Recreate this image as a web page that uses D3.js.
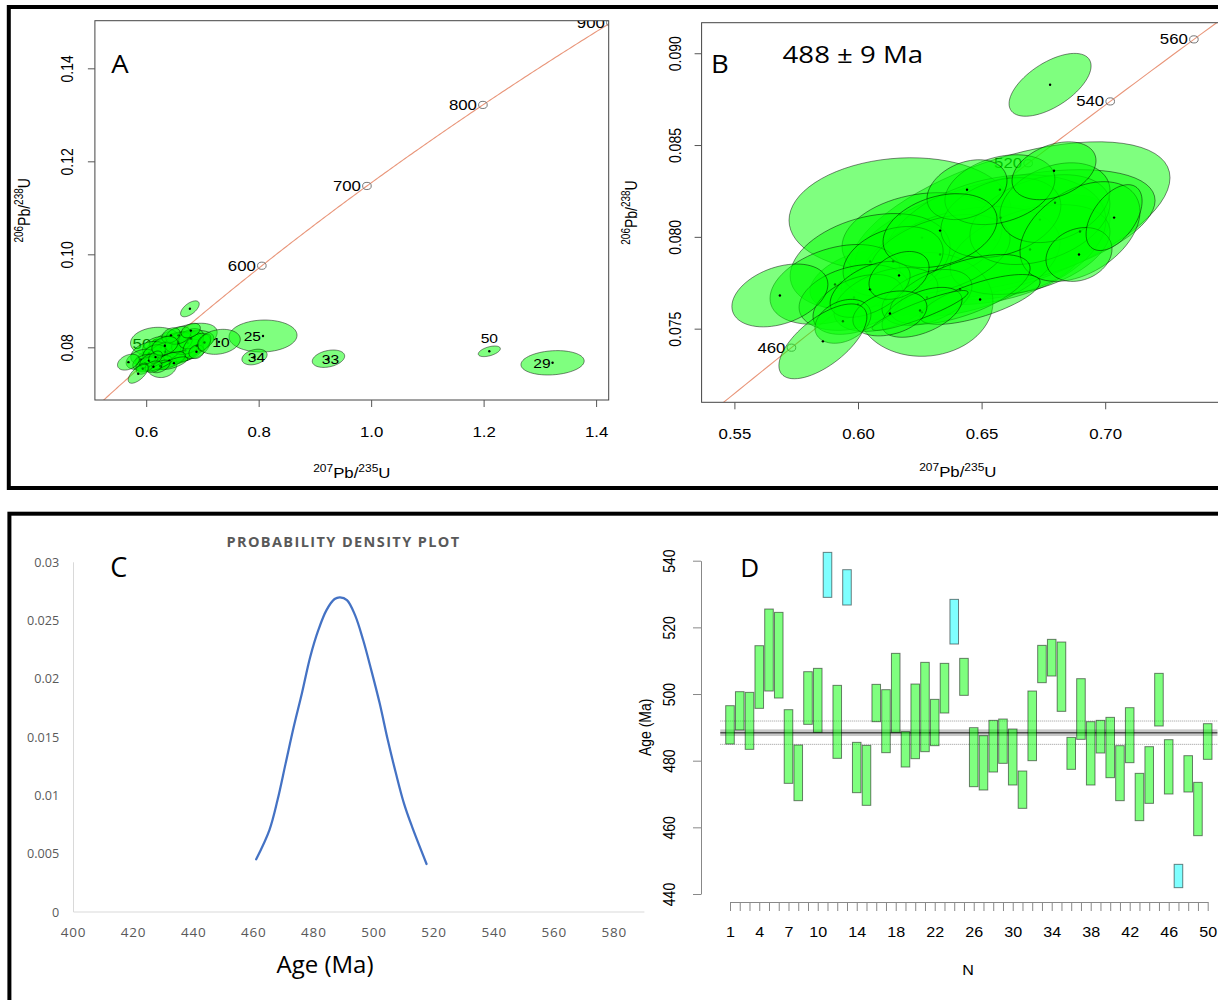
<!DOCTYPE html>
<html>
<head>
<meta charset="utf-8">
<script src="https://cdn.jsdelivr.net/npm/d3@7"></script>
<style>
  body { margin: 0; background: #fff; }
  svg { display: block; }
</style>
</head>
<body>
<svg id="fig" width="1218" height="1000"></svg>
<script>
// ---------- data ----------
// U-Pb error ellipses (207Pb/235U, 206Pb/238U, half-widths, error correlation)
const ellX   = [0.6494,0.6170,0.6777,0.6332,0.6008,0.6615,0.6615,0.6595,0.6170,0.6554,0.6413,0.6259,0.6271,0.6049,0.6696,0.6332,0.5907,0.6736,0.6578,0.6797,0.6898,0.6574,0.6441,0.6142,0.5984,0.6113,0.6000,0.6279,0.6413,0.6494,0.6259,0.6049,0.5939,0.6251,0.6332,0.6793,0.6894,0.7036,0.6166,0.6129,0.5684,0.5858,0.6777];
const ellY   = [0.07958,0.07741,0.08012,0.07822,0.07769,0.07822,0.08083,0.08029,0.08121,0.07985,0.07866,0.07996,0.07632,0.07866,0.07931,0.07904,0.07741,0.08094,0.08105,0.08186,0.08029,0.08257,0.08257,0.07866,0.07670,0.07659,0.07632,0.07670,0.07714,0.07659,0.07589,0.07714,0.07540,0.07599,0.08034,0.08360,0.07904,0.08105,0.07790,0.07583,0.07681,0.07431,0.08828];
const ellSX  = [0.03034,0.02427,0.02427,0.03236,0.02023,0.02832,0.06472,0.06068,0.0449,0.0449,0.04045,0.03236,0.02751,0.03236,0.03236,0.02832,0.0263,0.02832,0.02427,0.02225,0.02427,0.02225,0.01618,0.02023,0.02225,0.02104,0.0182,0.0182,0.02832,0.02427,0.01618,0.01618,0.01133,0.01942,0.02306,0.01699,0.01335,0.01133,0.01214,0.01497,0.01942,0.0178,0.01659];
const ellSY  = [0.002174,0.001902,0.002174,0.001902,0.00163,0.00163,0.004348,0.00337,0.003098,0.003533,0.002989,0.002446,0.002826,0.002609,0.002446,0.002174,0.002174,0.002446,0.002174,0.002174,0.002717,0.001902,0.00163,0.001902,0.001793,0.001739,0.00163,0.001522,0.001902,0.001359,0.001359,0.001522,0.001196,0.001087,0.002011,0.001576,0.001467,0.001793,0.001304,0.001223,0.001712,0.002038,0.001712];
const ellRho = [0.4,0.4,0.4,0.5,0.4,0.5,0.55,0.5,0.1,0.3,0.35,0.2,0.05,0.3,0.4,0.4,0.35,0.35,0.3,0.3,0.4,0.3,0.3,0.3,0.3,0.4,0.4,0.4,0.6,0.7,0.5,0.5,0.3,0.9,0.3,0.35,0.2,0.5,0.35,0.3,0.35,0.65,0.6];

// analyses only visible in the full view (panel A)
const outLabel = ["25","34","33","50","29","10"];
const outX   = [0.8077,0.7926,0.9241,1.2101,1.3226,0.7294];
const outY   = [0.08243,0.07791,0.07755,0.07914,0.07667,0.08118];
const outSX  = [0.0605,0.0224,0.0288,0.0196,0.0562,0.0379];
const outSY  = [0.00344,0.00168,0.00187,0.00114,0.00262,0.00269];
const outRho = [0.05,0.3,0.3,0.5,0.15,0.2];
const outLabelPos = ["left","center","center","above","left","center"];

const concAgesA = [500,600,700,800,900];
const concAgesB = [460,480,500,520,540,560];
const ticksAx = [0.6,0.8,1.0,1.2,1.4];
const ticksAy = [0.08,0.10,0.12,0.14];
const ticksBx = [0.55,0.60,0.65,0.70];
const ticksBy = [0.075,0.080,0.085,0.090];

// probability density curve (panel C)
const pdfAge     = [460.8,465.2,467.9,470.6,473.3,476.0,478.8,481.5,484.2,486.9,488.7,491.0,493.7,496.4,499.1,501.9,504.6,507.3,510.0,512.7,517.5];
const pdfDensity = [0.00452,0.00703,0.0096,0.01275,0.01589,0.01875,0.0219,0.0242,0.0259,0.02685,0.0270,0.02676,0.02547,0.02333,0.02075,0.0179,0.01475,0.0119,0.0093,0.0073,0.00412];
const ticksCx = [400,420,440,460,480,500,520,540,560,580];
const ticksCy = [0,0.005,0.01,0.015,0.02,0.025,0.03];

// 206Pb/238U ages with 2 sigma range (panel D)
const ageMin = [485.0,489.2,483.4,495.7,500.9,498.8,473.2,468.0,490.9,488.5,529.0,480.7,526.7,470.4,466.6,491.7,482.4,488.5,478.1,480.6,482.7,484.5,494.3,515.0,499.6,472.2,471.2,476.6,479.2,472.7,465.7,480.0,503.4,505.4,494.8,477.4,486.4,472.7,482.3,474.9,468.0,479.4,462.0,467.2,490.4,470.0,441.9,470.6,457.5,480.4];
const ageMax = [496.5,500.7,500.5,514.5,525.5,524.5,495.3,484.7,506.7,507.7,542.5,502.6,537.3,485.5,484.6,502.9,501.3,512.2,488.7,503.0,509.5,498.4,509.2,528.4,510.7,489.9,487.5,492.1,492.5,489.5,476.9,500.9,514.6,516.4,515.6,487.0,504.6,491.7,492.1,493.0,484.5,495.9,476.2,484.2,506.2,486.3,448.9,481.5,473.5,491.1];
const rejected = [11,13,24,47];
const meanAge = 488.4;
const meanCI = [487.4,489.4];
const meanLimits = [484.9,491.9];
const ticksDy = [440,460,480,500,520,540];
const labelsDx = [1,4,7,10,14,18,22,26,30,34,38,42,46,50];

// ---------- helpers ----------
const RFONT = "'Liberation Sans', Arial, sans-serif";
const OFONT = "'Open Sans', sans-serif";
const svg = d3.select("#fig");
const L238 = 1.55125e-4, L235 = 9.8485e-4;   // decay constants per Ma
function concordia(t) { return [Math.exp(L235 * t) - 1, Math.exp(L238 * t) - 1]; }

function addText(g, x, y, str, o) {
    o = o || {};
    return g.append("text")
        .attr("transform", "translate(" + x + "," + y + ") scale(" + (o.k || 1) + ",1) rotate(" + (o.rot || 0) + ")")
        .attr("text-anchor", o.anchor || "middle")
        .attr("font-family", o.font || RFONT)
        .attr("font-size", o.size || 14)
        .attr("font-weight", o.weight || "normal")
        .attr("letter-spacing", o.ls || 0)
        .style("fill", o.fill || "#000")
        .text(str);
}

function isoTitle(g, x, y, a, b, rot, k) {
    let t = g.append("text")
        .attr("transform", "translate(" + x + "," + y + ") scale(" + k + ",1) rotate(" + rot + ")")
        .attr("text-anchor", "middle")
        .attr("font-family", RFONT)
        .attr("font-size", 14);
    t.append("tspan").attr("font-size", 10).attr("dy", -6).text(a);
    t.append("tspan").attr("dy", 6).text("Pb/");
    t.append("tspan").attr("font-size", 10).attr("dy", -6).text(b);
    t.append("tspan").attr("dy", 6).text("U");
}

function ellipsePoints(cx, cy, sx, sy, rho) {
    let pts = [];
    let k = Math.sqrt(1 - rho * rho);
    for (let i = 0; i < 72; i++) {
        let t = i / 72 * 2 * Math.PI;
        pts.push([cx + sx * Math.cos(t), cy + sy * (rho * Math.cos(t) + k * Math.sin(t))]);
    }
    return pts;
}

// ---------- concordia panels (A, B) ----------
function concordiaPanel(p) {
    let K = 1.2;
    let x = d3.scaleLinear().domain(p.xd).range([p.x0, p.x1]);
    let y = d3.scaleLinear().domain(p.yd).range([p.y1, p.y0]);
    let g = svg.append("g");

    g.append("clipPath").attr("id", p.id + "_clip")
        .append("rect").attr("x", p.x0).attr("y", p.y0)
        .attr("width", p.x1 - p.x0).attr("height", p.y1 - p.y0);
    let plot = g.append("g").attr("clip-path", "url(#" + p.id + "_clip)");

    // concordia curve
    let line = d3.line().x(d => x(d[0])).y(d => y(d[1]));
    plot.append("path")
        .datum(d3.range(0, 1200, 2).map(concordia))
        .attr("d", line)
        .style("fill", "none").style("stroke", "#E9967A").style("stroke-width", 1.1);

    p.ages.forEach(function(a) {
        let c = concordia(a);
        plot.append("ellipse")
            .attr("cx", x(c[0])).attr("cy", y(c[1]))
            .attr("rx", 4.3).attr("ry", 3.6)
            .style("fill", "none").style("stroke", "#777").style("stroke-width", 1);
        addText(plot, x(c[0]) - 6, y(c[1]) + 5, a, {anchor: "end", k: K});
    });

    // error ellipses
    let eline = d3.line().x(d => x(d[0])).y(d => y(d[1])).curve(d3.curveLinearClosed);
    function drawEllipses(X, Y, SX, SY, R) {
        X.forEach(function(cx, i) {
            plot.append("path")
                .attr("d", eline(ellipsePoints(cx, Y[i], SX[i], SY[i], R[i])))
                .style("fill", "rgba(0,255,0,0.5)")
                .style("stroke", "rgba(0,0,0,0.6)")
                .style("stroke-width", 0.8);
            plot.append("circle")
                .attr("cx", x(cx)).attr("cy", y(Y[i])).attr("r", 1.2)
                .style("fill", "#000");
        });
    }
    drawEllipses(ellX, ellY, ellSX, ellSY, ellRho);
    if (p.outliers) {
        drawEllipses(outX, outY, outSX, outSY, outRho);
        outLabel.forEach(function(lab, i) {
            let px = x(outX[i]), py = y(outY[i]);
            let pos = outLabelPos[i];
            if (pos === "left") addText(plot, px - 2, py + 5, lab, {anchor: "end", size: 13, k: K});
            else if (pos === "above") addText(plot, px, py - 8, lab, {size: 13, k: K});
            else addText(plot, px + 2, py + 5, lab, {size: 13, k: K});
        });
    }

    // box and axes
    g.append("rect").attr("x", p.x0).attr("y", p.y0)
        .attr("width", p.x1 - p.x0).attr("height", p.y1 - p.y0)
        .style("fill", "none").style("stroke", "#444").style("stroke-width", 1);

    let ax = g.append("g").attr("transform", "translate(0," + p.y1 + ")")
        .call(d3.axisBottom(x).tickValues(p.tx).tickSize(7).tickFormat(d3.format(p.fx)));
    let ay = g.append("g").attr("transform", "translate(" + p.x0 + ",0)")
        .call(d3.axisLeft(y).tickValues(p.ty).tickSize(7).tickFormat(d3.format(p.fy)));
    [ax, ay].forEach(function(a) {
        a.select(".domain").remove();
        a.selectAll("line").style("stroke", "#555");
        a.attr("font-family", RFONT).attr("font-size", 14);
        a.selectAll("text").attr("x", null).attr("y", null).attr("dy", null)
            .style("fill", "#000").attr("text-anchor", "middle");
    });
    ax.selectAll("text").attr("transform", "translate(0," + p.xlab + ") scale(" + K + ",1)");
    ay.selectAll("text").attr("transform", "translate(" + (p.ylab - p.x0) + ",0) scale(" + K + ",1) rotate(-90)");

    isoTitle(g, (p.x0 + Math.min(p.x1, 1218)) / 2 + p.xtOff, p.xt, "207", "235", 0, K);
    isoTitle(g, p.yt, (p.y0 + p.y1) / 2, "206", "238", -90, K);
    return g;
}

let gA = concordiaPanel({
    id: "A", x0: 94.9, x1: 608.7, y0: 20.7, y1: 400,
    xd: [0.5088, 1.4224], yd: [0.06867, 0.15024],
    tx: ticksAx, ty: ticksAy, fx: ".1f", fy: ".2f",
    ages: concAgesA, outliers: true,
    xlab: 37, ylab: 73, xt: 478, xtOff: 0, yt: 30
});
addText(gA, 120, 73, "A", {font: OFONT, size: 25, k: 1.1});

let gB = concordiaPanel({
    id: "B", x0: 701.6, x1: 1222, y0: 22.7, y1: 402.3,
    xd: [0.53673, 0.74725], yd: [0.07099, 0.091663],
    tx: ticksBx, ty: ticksBy, fx: ".2f", fy: ".3f",
    ages: concAgesB, outliers: false,
    xlab: 37, ylab: 681, xt: 477, xtOff: -2, yt: 637
});
addText(gB, 720, 73, "B", {font: OFONT, size: 25, k: 1.1});
addText(gB, 782.6, 62.7, "488 \u00B1 9 Ma", {font: OFONT, size: 23, k: 1.2, anchor: "start"});

// ---------- panel C: probability density ----------
let gC = svg.append("g");
let xC = d3.scaleLinear().domain([400, 590]).range([73.5, 644.4]);
let yC = d3.scaleLinear().domain([0, 0.03]).range([912, 562.3]);
gC.append("line").attr("x1", xC(400)).attr("x2", xC(400)).attr("y1", yC(0)).attr("y2", yC(0.03))
    .style("stroke", "#d9d9d9");
gC.append("line").attr("x1", xC(400)).attr("x2", xC(590)).attr("y1", yC(0)).attr("y2", yC(0))
    .style("stroke", "#d9d9d9");
ticksCy.forEach(function(v) {
    addText(gC, 59.2, yC(v) + 4.5, v, {font: OFONT, size: 12.6, anchor: "end", fill: "#595959"});
});
ticksCx.forEach(function(v) {
    addText(gC, xC(v), 936.7, v, {font: OFONT, size: 13.5, ls: 0.8, fill: "#595959"});
});
gC.append("path")
    .datum(pdfAge.map((a, i) => [a, pdfDensity[i]]))
    .attr("d", d3.line().x(d => xC(d[0])).y(d => yC(d[1])).curve(d3.curveCatmullRom))
    .style("fill", "none").style("stroke", "#4472C4").style("stroke-width", 2.25)
    .style("stroke-linecap", "round");
addText(gC, 343.5, 546.7, "PROBABILITY DENSITY PLOT", {font: OFONT, size: 14.5, weight: "bold", ls: 1.4, fill: "#595959"});
addText(gC, 325, 972.7, "Age (Ma)", {font: OFONT, size: 24});
addText(gC, 118.7, 577.3, "C", {font: OFONT, size: 27});

// ---------- panel D: age bars ----------
let KD = 1.15;
let gD = svg.append("g");
let xD = d3.scaleLinear().domain([1, 50]).range([730, 1207.7]);
let yD = d3.scaleLinear().domain([440, 540]).range([894, 560.7]);

gD.append("rect").attr("x", xD(0)).attr("width", xD(51) - xD(0))
    .attr("y", yD(meanCI[1])).attr("height", yD(meanCI[0]) - yD(meanCI[1]))
    .style("fill", "rgba(0,0,0,0.22)");
gD.append("line").attr("x1", xD(0)).attr("x2", xD(51)).attr("y1", yD(meanAge)).attr("y2", yD(meanAge))
    .style("stroke", "rgba(0,0,0,0.6)").style("stroke-width", 1.5);
meanLimits.forEach(function(v) {
    gD.append("line").attr("x1", xD(0)).attr("x2", xD(51)).attr("y1", yD(v)).attr("y2", yD(v))
        .style("stroke", "#999").style("stroke-dasharray", "1,1");
});

let bw = 0.88 * (xD(2) - xD(1));
gD.selectAll(".agebar").data(ageMin)
    .enter().append("rect")
    .attr("class", "agebar")
    .attr("x", (d, i) => xD(i + 1) - bw / 2)
    .attr("width", bw)
    .attr("y", (d, i) => yD(ageMax[i]))
    .attr("height", (d, i) => yD(d) - yD(ageMax[i]))
    .style("fill", (d, i) => rejected.includes(i + 1) ? "rgba(0,255,255,0.5)" : "rgba(0,255,0,0.5)")
    .style("stroke", "rgba(0,0,0,0.5)")
    .style("stroke-width", 1);

let axD = gD.append("g").attr("transform", "translate(0,902)")
    .call(d3.axisBottom(xD).tickValues(ageMin.map((d, i) => i + 1)).tickSize(9).tickSizeOuter(0)
        .tickFormat(d => labelsDx.includes(d) ? d : ""));
let ayD = gD.append("g").attr("transform", "translate(701,0)")
    .call(d3.axisLeft(yD).tickValues(ticksDy).tickSize(8).tickSizeOuter(0));
[axD, ayD].forEach(function(a) {
    a.select(".domain").style("stroke", "#888");
    a.selectAll("line").style("stroke", "#888");
    a.attr("font-family", RFONT).attr("font-size", 14);
    a.selectAll("text").attr("x", null).attr("y", null).attr("dy", null)
        .style("fill", "#000").attr("text-anchor", "middle");
});
axD.selectAll("text").attr("transform", "translate(0,34.7) scale(" + KD + ",1)");
ayD.selectAll("text").attr("transform", "translate(-26,0) scale(" + KD + ",1) rotate(-90)");
addText(gD, 968, 975, "N", {k: KD});
addText(gD, 651, (yD(440) + yD(540)) / 2, "Age (Ma)", {k: KD, rot: -90});
addText(gD, 749.8, 577.3, "D", {font: OFONT, size: 26});

// ---------- outer frames ----------
svg.append("rect").attr("x", 8.8).attr("y", 7).attr("width", 1240).attr("height", 481)
    .style("fill", "none").style("stroke", "#000").style("stroke-width", 4);
svg.append("rect").attr("x", 9.4).attr("y", 513.7).attr("width", 1240).attr("height", 600)
    .style("fill", "none").style("stroke", "#000").style("stroke-width", 4);
</script>
</body>
</html>
